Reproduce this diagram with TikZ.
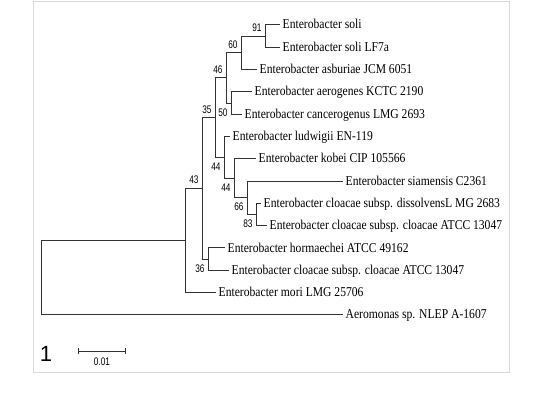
\documentclass[tikz,border=0pt]{standalone}
\usepackage{fontspec}
\setmainfont{Liberation Serif}[FakeStretch=0.86]
\newfontfamily\bootfont{Liberation Sans}[FakeStretch=0.75]
\newfontfamily\panelfont{Liberation Sans}
\usetikzlibrary{arrows.meta}

\begin{document}
\begin{tikzpicture}[x=1pt, y=-1pt,
    leaf/.style={anchor=west, inner sep=2.5pt, text height=10pt, text depth=2pt, font=\fontsize{13.5}{14}\selectfont},
    branch/.style={draw=black!80, line width=1pt},
    bup/.style={anchor=south east, inner sep=0pt, xshift=-3pt, yshift=4pt, font=\bootfont\fontsize{11}{11}\selectfont},
    bdown/.style={anchor=north east, inner sep=0pt, xshift=-3pt, yshift=-5pt, font=\bootfont\fontsize{11}{11}\selectfont}]
\useasboundingbox (0,0) rectangle (543,395);
\draw[black!15, line width=1pt] (33,2) rectangle (509,372);

% leaves
\node[leaf] (soli) at (280,25)    {Enterobacter soli};
\node[leaf] (lf7a) at (280,47.3)  {Enterobacter soli LF7a};
\node[leaf] (asb)  at (257,69.6)  {Enterobacter asburiae JCM 6051};
\node[leaf] (aer)  at (252,91.9)  {Enterobacter aerogenes KCTC 2190};
\node[leaf] (canc) at (242,114.2) {Enterobacter cancerogenus LMG 2693};
\node[leaf] (lud)  at (230,136.5) {Enterobacter ludwigii EN-119};
\node[leaf] (kob)  at (256,158.8) {Enterobacter kobei CIP 105566};
\node[leaf] (siam) at (343,181.1) {Enterobacter siamensis C2361};
\node[leaf] (diss) at (261,203.4) {Enterobacter cloacae subsp. dissolvensL MG 2683};
\node[leaf] (clo)  at (267,225.7) {Enterobacter cloacae subsp. cloacae ATCC 13047};
\node[leaf] (horm) at (225,248)   {Enterobacter hormaechei ATCC 49162};
\node[leaf] (clo2) at (229,270.3) {Enterobacter cloacae subsp. cloacae ATCC 13047};
\node[leaf] (mori) at (216,292.6) {Enterobacter mori LMG 25706};
\node[leaf] (aero) at (343,314.9) {Aeromonas sp. NLEP A-1607};

% inner nodes
\coordinate (n91)  at (265,36.15);
\coordinate (n60)  at (241,52.9);
\coordinate (n50)  at (231,103.05);
\coordinate (n46)  at (226,77.97);
\coordinate (n83)  at (256,214.55);
\coordinate (n66)  at (247,197.8);
\coordinate (n44b) at (234,178.3);
\coordinate (n44a) at (224,157.4);
\coordinate (n35)  at (215,117.7);
\coordinate (n36)  at (208,259.15);
\coordinate (n43)  at (202,188.4);
\coordinate (nin)  at (185,240.5);
\coordinate (root) at (41,277.7);

% branches
\draw[branch] (n91) |- (soli);
\draw[branch] (n91) |- (lf7a);
\draw[branch] (n60) |- (n91) node[bup] {91};
\draw[branch] (n60) |- (asb);
\draw[branch] (n50) |- (aer);
\draw[branch] (n50) |- (canc);
\draw[branch] (n46) |- (n60) node[bup] {60};
\draw[branch] (n46) |- (n50) node[bdown] {50};
\draw[branch] (n83) |- (diss);
\draw[branch] (n83) |- (clo);
\draw[branch] (n66) |- (siam);
\draw[branch] (n66) |- (n83) node[bdown] {83};
\draw[branch] (n44b) |- (kob);
\draw[branch] (n44b) |- (n66) node[bdown] {66};
\draw[branch] (n44a) |- (lud);
\draw[branch] (n44a) |- (n44b) node[bdown] {44};
\draw[branch] (n35) |- (n46) node[bup] {46};
\draw[branch] (n35) |- (n44a) node[bdown] {44};
\draw[branch] (n36) |- (horm);
\draw[branch] (n36) |- (clo2);
\draw[branch] (n43) |- (n35) node[bup] {35};
\draw[branch] (n43) |- (n36) node[bdown] {36};
\draw[branch] (nin) |- (n43) node[bup] {43};
\draw[branch] (nin) |- (mori);
\draw[branch] (root) |- (nin);
\draw[branch] (root) |- (aero);

% scale bar
\coordinate (sb1) at (78,351);
\coordinate (sb2) at (126,351);
\draw[branch, {Bar[width=6pt]}-{Bar[width=6pt]}] (sb1) -- (sb2)
    node[midway, below=6pt, inner sep=0pt, font=\bootfont\fontsize{11}{11}\selectfont] (sbl) {0.01};
\node[font=\panelfont\fontsize{22}{22}\selectfont, inner sep=0pt] (panel) at (46,354) {1};
\end{tikzpicture}
\end{document}
